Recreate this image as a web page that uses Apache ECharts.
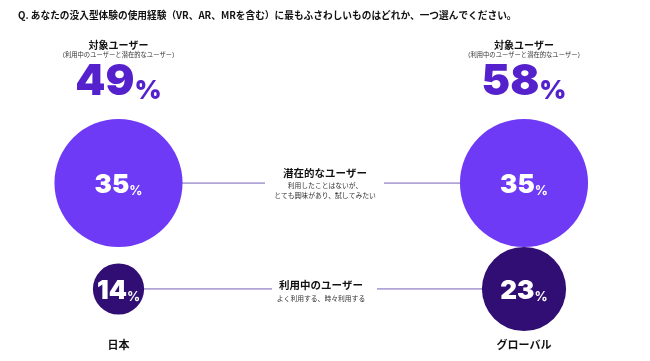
<!DOCTYPE html>
<html><head><meta charset="utf-8">
<script src="https://cdn.jsdelivr.net/npm/echarts@6/dist/echarts.min.js"></script>
<style>html,body{margin:0;padding:0;background:#fff}#c{width:650px;height:361px}</style>
</head><body><div id="c"></div>
<script>
const regions = ['日本', 'グローバル'];
const segments = ['潜在的なユーザー', '利用中のユーザー'];
const segmentNotes = [['利用したことはないが、', 'とても興味があり、試してみたい'], ['よく利用する、時々利用する']];
const potentialUsers = [35, 35];
const currentUsers = [14, 23];
const targetUsers = [49, 58];
const targetTitle = '対象ユーザー';
const targetNote = '（利用中のユーザーと潜在的なユーザー）';
const question = 'Q. あなたの没入型体験の使用経験（VR、AR、MRを含む）に最もふさわしいものはどれか、一つ選んでください。';

const JP = '"Noto Sans CJK JP", "Noto Sans", sans-serif';
const NUM = 'Inter, Lato, sans-serif';
const chart = echarts.init(document.getElementById('c'), null, {renderer: 'canvas'});

function circleSeries(values, row, color) {
  return {
    type: 'scatter', z: 5, silent: true,
    data: values.map((v, i) => [regions[i], segments[row], v]),
    symbolSize: d => d[2] * 3.66,
    itemStyle: {color: color, opacity: 1},
    label: {
      show: true, position: 'inside', opacity: 1,
      formatter: p => '{n|' + p.value[2] + '}{p|%}',
      rich: {
        n: {fontFamily: NUM, fontWeight: 900, fontSize: 26, color: '#fff', verticalAlign: 'bottom', lineHeight: 30},
        p: {fontFamily: NUM, fontWeight: 700, fontSize: 13, color: '#fff', verticalAlign: 'bottom', lineHeight: 24}
      }
    }
  };
}
function textSeries(offsetY, formatter, labelStyle) {
  return {
    type: 'scatter', z: 6, silent: true, symbolSize: 1,
    itemStyle: {color: 'rgba(0,0,0,0)', opacity: 1},
    data: targetUsers.map((v, i) => [regions[i], segments[0], v]),
    label: Object.assign({show: true, position: 'inside', opacity: 1, textBorderWidth: 0, offset: [0, offsetY], formatter: formatter}, labelStyle)
  };
}

const lineSeries = segments.map(s => ({
  type: 'line', z: 2, silent: true, symbol: 'none',
  data: regions.map(r => [r, s]),
  lineStyle: {color: '#9687c8', width: 1.5}
}));

const notesGraphic = [];
const gapY = [183, 289];
const gapW = [119, 105];
segments.forEach((s, k) => {
  notesGraphic.push({type: 'rect', z: 10, shape: {x: 324.5 - gapW[k] / 2, y: gapY[k] - 6, width: gapW[k], height: 12}, style: {fill: '#fff'}});
});
notesGraphic.push({type: 'text', z: 11, style: {x: 325, y: 173, text: segments[0], textAlign: 'center', textVerticalAlign: 'middle', font: 'bold 10.5px ' + JP, fill: '#111'}});
segmentNotes[0].forEach((t, j) => notesGraphic.push({type: 'text', z: 11, style: {x: 325, y: 185 + j * 10.5, text: t, textAlign: 'center', textVerticalAlign: 'middle', font: '6.8px ' + JP, fill: '#333'}}));
notesGraphic.push({type: 'text', z: 11, style: {x: 321, y: 285, text: segments[1], textAlign: 'center', textVerticalAlign: 'middle', font: 'bold 10.5px ' + JP, fill: '#111'}});
segmentNotes[1].forEach((t, j) => notesGraphic.push({type: 'text', z: 11, style: {x: 321, y: 298, text: t, textAlign: 'center', textVerticalAlign: 'middle', font: '6.8px ' + JP, fill: '#333'}}));
notesGraphic.push({type: 'text', z: 11, style: {x: 18, y: 15, text: question, textAlign: 'left', textVerticalAlign: 'middle', font: 'bold 9.7px ' + JP, fill: '#111'}});

chart.setOption({
  animation: false,
  backgroundColor: '#fff',
  grid: {left: 118.5, right: 126, top: 183, bottom: 72, containLabel: false},
  xAxis: {
    type: 'category', data: regions, boundaryGap: false,
    axisLine: {show: false}, axisTick: {show: false}, splitLine: {show: false},
    axisLabel: {margin: 50, fontFamily: JP, fontWeight: 'bold', fontSize: 11, color: '#111'}
  },
  yAxis: {type: 'category', data: segments, inverse: true, boundaryGap: false, show: false},
  graphic: notesGraphic,
  series: [
    ...lineSeries,
    circleSeries(potentialUsers, 0, '#6f3af6'),
    circleSeries(currentUsers, 1, '#300e73'),
    textSeries(-138, () => targetTitle, {fontFamily: JP, fontWeight: 'bold', fontSize: 10, color: '#111'}),
    textSeries(-128, () => targetNote, {fontFamily: JP, fontSize: 6.3, color: '#333'}),
    textSeries(-103, p => '{n|' + p.value[2] + '}{p|%}', {rich: {
      n: {fontFamily: NUM, fontWeight: 900, fontSize: 43, color: '#5421cc', verticalAlign: 'bottom', lineHeight: 48},
      p: {fontFamily: NUM, fontWeight: 900, fontSize: 26, color: '#5421cc', verticalAlign: 'bottom', lineHeight: 40}
    }})
  ]
});
</script></body></html>
